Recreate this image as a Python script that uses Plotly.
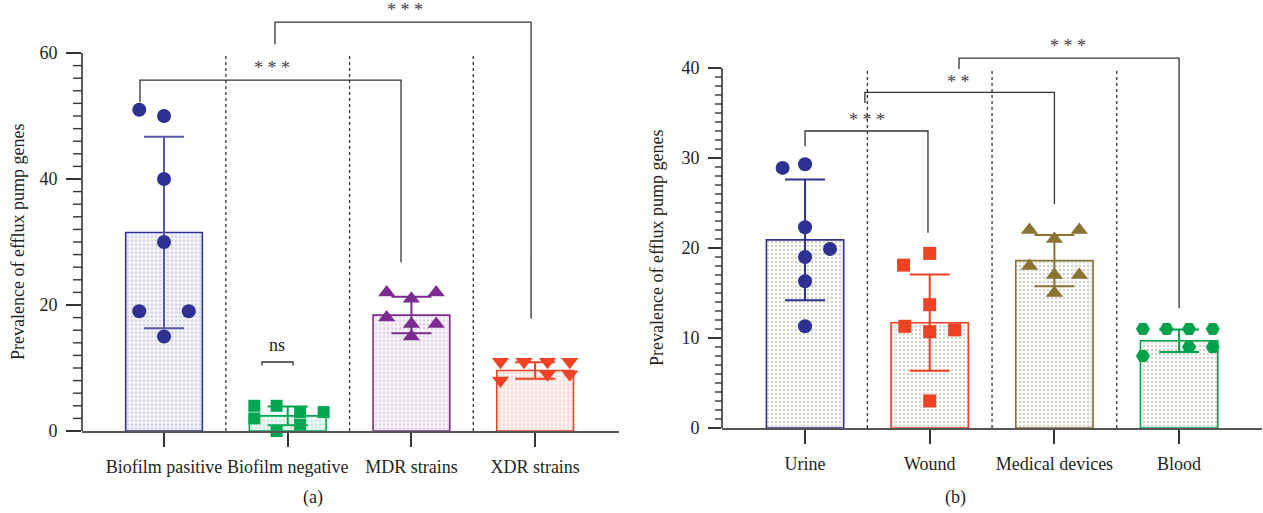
import plotly.graph_objects as go

# ---------------- data ----------------
cats_a = ["Biofilm pasitive", "Biofilm negative", "MDR strains", "XDR strains"]
mean_a = [31.5, 2.4, 18.4, 9.6]
sd_a = [15.2, 1.5, 2.9, 1.3]

bpos_vals = [51, 50, 40, 30, 19, 19, 15]
bpos_off = [-0.2, 0, 0, 0, -0.2, 0.2, 0]
bneg_vals = [4, 2, 4, 0, 3, 1, 3]
bneg_off = [-0.27, -0.27, -0.09, -0.09, 0.1, 0.1, 0.29]
mdr_vals = [22, 21, 22, 18, 17, 17, 15]
mdr_off = [-0.2, 0, 0.2, -0.2, 0, 0.2, 0]
xdr_vals = [11, 11, 11, 11, 9, 9, 8]
xdr_off = [-0.28, -0.09, 0.1, 0.28, 0.1, 0.28, -0.28]

cats_b = ["Urine", "Wound", "Medical devices", "Blood"]
mean_b = [20.9, 11.7, 18.6, 9.7]
sd_b = [6.7, 5.35, 2.85, 1.25]

urine_vals = [28.9, 29.3, 22.3, 19.9, 19.0, 16.3, 11.3]
urine_off = [-0.18, 0, 0, 0.2, 0, 0, 0]
wound_vals = [18.1, 19.4, 13.7, 11.3, 10.7, 10.9, 3.0]
wound_off = [-0.21, 0, 0, -0.2, 0, 0.2, 0]
med_vals = [22, 22, 21, 18, 17, 17, 15]
med_off = [-0.2, 0.2, 0, -0.2, 0, 0.2, 0]
blood_vals = [11, 11, 11, 11, 9, 9, 8]
blood_off = [-0.29, -0.1, 0.08, 0.27, 0.08, 0.27, -0.29]

ticks_a_major = [0, 20, 40, 60]
ticks_a_minor = [v for v in range(2, 60, 2) if v % 20 != 0]
ticks_b_major = [0, 10, 20, 30, 40]
ticks_b_minor = [v for v in range(1, 40) if v % 10 != 0]

# significance brackets: (x_left, x_right, y_left_bottom, y_top, y_right_bottom, label, label_x, label_y)
brackets_a = [
    (-0.194, 1.916, 52.2, 55.7, 26.8, "* * *", 0.873, 57.6),
    (0.897, 2.967, 61.4, 64.9, 17.8, "* * *", 1.948, 66.8),
]
brackets_b = [
    (0.0, 0.986, 31.3, 33.0, 21.7, "* * *", 0.5, 34.2),
    (0.48, 2.0, 36.1, 37.3, 24.9, "* *", 1.23, 38.5),
    (1.235, 3.0, 39.9, 41.1, 13.3, "* * *", 2.11, 42.4),
]

# ---------------- styling ----------------
FONT = "Liberation Serif"
TXT = "#231F20"
BLUE = "#2E3192"
GREEN = "#00A651"
PURPLE = "#7B2C8F"
RED = "#EF4123"
OLIVE = "#8A7434"
GREEN_B = "#00A14B"
W, H = 1263, 513
RA = 68   # panel (a) y-range top
RB = 44   # panel (b) y-range top

def rgba(hexc, a):
    h = hexc.lstrip("#")
    return "rgba(%d,%d,%d,%s)" % (int(h[0:2], 16), int(h[2:4], 16), int(h[4:6], 16), a)

fig = go.Figure()

def add_bar(xa, ya, i, mean, sd, color, fg, bg, errcolor):
    fig.add_trace(go.Bar(
        x=[i], y=[mean], width=0.62, xaxis=xa, yaxis=ya,
        marker=dict(color=bg, line=dict(color=color, width=1.6),
                    pattern=dict(shape=".", fgcolor=fg, bgcolor=bg, size=4, solidity=0.3)),
        error_y=dict(type="data", array=[sd], visible=True, color=errcolor, thickness=2, width=20),
        showlegend=False, hoverinfo="skip"))

def add_pts(xa, ya, i, vals, offs, color, symbol, size):
    fig.add_trace(go.Scatter(
        x=[i + o for o in offs], y=vals, mode="markers", xaxis=xa, yaxis=ya,
        marker=dict(color=color, symbol=symbol, size=size, line=dict(width=0)),
        showlegend=False, hoverinfo="skip", cliponaxis=False))

# panel (a)
cols_a = [BLUE, GREEN, PURPLE, RED]
err_a = ["#5558A8", GREEN, PURPLE, RED]
for i, (m, s, c, ec) in enumerate(zip(mean_a, sd_a, cols_a, err_a)):
    add_bar("x", "y", i, m, s, c, rgba(c, 0.4), rgba(c, 0.05), ec)
add_pts("x", "y", 0, bpos_vals, bpos_off, BLUE, "circle", 14)
add_pts("x", "y", 1, bneg_vals, bneg_off, GREEN, "square", 12)
add_pts("x", "y", 2, mdr_vals, mdr_off, PURPLE, "triangle-up", 15)
add_pts("x", "y", 3, xdr_vals, xdr_off, RED, "triangle-down", 15)

# panel (b)
cols_b = [BLUE, RED, OLIVE, GREEN_B]
for i, (m, s, c) in enumerate(zip(mean_b, sd_b, cols_b)):
    add_bar("x2", "y2", i, m, s, c, "rgba(80,80,80,0.5)", "#FCFCF9", c)
add_pts("x2", "y2", 0, urine_vals, urine_off, BLUE, "circle", 14)
add_pts("x2", "y2", 1, wound_vals, wound_off, RED, "square", 13)
add_pts("x2", "y2", 2, med_vals, med_off, OLIVE, "triangle-up", 15)
add_pts("x2", "y2", 3, blood_vals, blood_off, GREEN_B, "hexagon2", 14)

shapes = []
annotations = []

xa_px = (82, 619)
xb_px = (722, 1262)
ya_dom = [1 - 431 / H, 1 - (431 - RA * 6.3) / H]
yb_dom = [1 - 428 / H, 1 - (428 - RB * 9.0) / H]

def panel_decor(xr, yr, ytop, rtop, ydom, brackets, axis_px, minor, nlen):
    # y-axis line up to the last major tick
    shapes.append(dict(type="line", xref=xr + " domain", yref=yr, x0=0, x1=0, y0=0, y1=ytop,
                       line=dict(color="#333333", width=1.6)))
    # minor ticks, placed in paper units from the axis domain
    for v in minor:
        yp = ydom[0] + (ydom[1] - ydom[0]) * v / rtop
        shapes.append(dict(type="line", xref="paper", yref="paper",
                           x0=(axis_px - nlen) / W, x1=axis_px / W, y0=yp, y1=yp,
                           line=dict(color="#333333", width=1.4)))
    for d in [0.5, 1.5, 2.5]:
        shapes.append(dict(type="line", xref=xr, yref=yr, x0=d, x1=d, y0=0, y1=ytop,
                           line=dict(color="#333333", width=1.3, dash="dot")))
    for (xl, xrr, yl, yt, yrb, lab, lx, ly) in brackets:
        shapes.append(dict(type="path", xref=xr, yref=yr,
                           path="M %s,%s L %s,%s L %s,%s L %s,%s" % (xl, yl, xl, yt, xrr, yt, xrr, yrb),
                           line=dict(color="#333333", width=1.3)))
        annotations.append(dict(xref=xr, yref=yr, x=lx, y=ly, text=lab, showarrow=False,
                                font=dict(family=FONT, size=18, color="#444444"),
                                xanchor="center", yanchor="middle"))

panel_decor("x", "y", 60, RA, ya_dom, brackets_a, xa_px[0], ticks_a_minor, 9)
panel_decor("x2", "y2", 40, RB, yb_dom, brackets_b, xb_px[0], ticks_b_minor, 7)

# ns bracket in panel (a)
shapes.append(dict(type="path", xref="x", yref="y",
                   path="M 0.792,10.4 L 0.792,10.95 L 1.043,10.95 L 1.043,10.4",
                   line=dict(color="#333333", width=1.3)))
annotations.append(dict(xref="x", yref="y", x=0.915, y=13.6, text="ns", showarrow=False,
                        xanchor="center", yanchor="middle",
                        font=dict(family=FONT, size=18, color=TXT)))

annotations += [
    dict(xref="paper", yref="paper", x=18 / W, y=1 - 242 / H, text="Prevalence of efflux pump genes",
         textangle=-90, showarrow=False, xanchor="center", yanchor="middle",
         font=dict(family=FONT, size=18, color=TXT)),
    dict(xref="paper", yref="paper", x=657 / W, y=1 - 248 / H, text="Prevalence of efflux pump genes",
         textangle=-90, showarrow=False, xanchor="center", yanchor="middle",
         font=dict(family=FONT, size=18, color=TXT)),
    dict(xref="paper", yref="paper", x=313 / W, y=1 - 497 / H, text="(a)", showarrow=False,
         xanchor="center", yanchor="middle", font=dict(family=FONT, size=18, color=TXT)),
    dict(xref="paper", yref="paper", x=955 / W, y=1 - 497 / H, text="(b)", showarrow=False,
         xanchor="center", yanchor="middle", font=dict(family=FONT, size=18, color=TXT)),
]

tickfont = dict(family=FONT, size=18, color=TXT)

def xaxis_cfg(domain, rng, cats, anchor):
    return dict(domain=domain, range=rng, tickmode="array", tickvals=[0, 1, 2, 3], ticktext=cats,
                ticks="outside", ticklen=14, tickwidth=1.6, tickcolor="#333333", anchor=anchor,
                showline=True, linecolor="#555555", linewidth=2, showgrid=False, zeroline=False,
                tickfont=tickfont, ticklabelstandoff=4, fixedrange=True, automargin=False)

def yaxis_cfg(domain, rng, major, mlen, anchor):
    return dict(domain=domain, range=rng, tickmode="array", tickvals=major, anchor=anchor,
                ticks="outside", ticklen=mlen, tickwidth=1.6, tickcolor="#333333",
                showline=False, showgrid=False, zeroline=False, tickfont=tickfont,
                ticklabelstandoff=5, fixedrange=True, automargin=False)

fig.update_layout(
    width=W, height=H,
    margin=dict(l=0, r=0, t=0, b=0, pad=0),
    paper_bgcolor="white", plot_bgcolor="white",
    barmode="overlay", showlegend=False,
    xaxis=xaxis_cfg([xa_px[0] / W, xa_px[1] / W], [-0.663, 3.678], cats_a, "y"),
    yaxis=yaxis_cfg(ya_dom, [0, RA], ticks_a_major, 15, "x"),
    xaxis2=xaxis_cfg([xb_px[0] / W, xb_px[1] / W], [-0.666, 3.665], cats_b, "y2"),
    yaxis2=yaxis_cfg(yb_dom, [0, RB], ticks_b_major, 13, "x2"),
    shapes=shapes, annotations=annotations,
)

fig.write_html("out.html", config={"displayModeBar": False})

# remove the default page margin so the figure sits at the window origin
with open("out.html", "r", encoding="utf-8") as f:
    html = f.read()
html = html.replace("<head>", "<head><style>html,body{margin:0;padding:0;overflow:hidden;}</style>", 1)
with open("out.html", "w", encoding="utf-8") as f:
    f.write(html)
